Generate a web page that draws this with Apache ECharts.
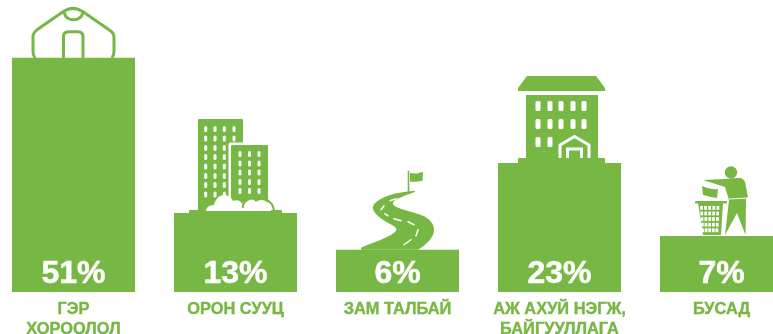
<!DOCTYPE html>
<html><head><meta charset="utf-8">
<style>html,body{margin:0;padding:0;background:#fff;overflow:hidden}#c{width:773px;height:334px}</style>
<script src="https://cdn.jsdelivr.net/npm/echarts@6/dist/echarts.min.js"></script>
</head><body><div id="c"></div>
<script>
const categories = ['ГЭР\nХОРООЛОЛ','ОРОН СУУЦ','ЗАМ ТАЛБАЙ','АЖ АХУЙ НЭГЖ,\nБАЙГУУЛЛАГА','БУСАД'];
const percents = [51,13,6,23,7];
// drawn bar heights (bars are not strictly proportional to their labels)
const barHeights = [51,17.2,9.2,28.1,12.2];
const GREEN = '#76b843', WHITE = '#fff';

const reg = (n,d)=>echarts.graphic.registerShape(n, echarts.graphic.extendPath(d,{}));
reg('yurt','M34.5 57 Q33 55 33 51 L33 37 Q33 33 37 30 L63 12 Q73 5 83 12 L109 30 Q114 33 114 37 L114 51 Q114 55 112.5 57');
reg('crown','M64 12.5 Q66 20 73.5 20 Q81 20 83 12.5');
reg('door','M63.5 57 L63.5 37 Q63.5 32 68.5 32 L78 32 Q83 32 83 37 L83 57');
reg('road','M415 191 C405 192 396 193 388 196 C378 200 372 204 373 209 C374 214 380 218 386 222 C392 225 398 228 396 231 C392 237 372 243 361 248 L361 250 L418 250 C426 245 434 238 434 230 C434 224 430 220 425 217 C415 212 394 209 393 204 C393 199 406 196 415 192 Z');
reg('bush1','M206 211 C206 207 210 205 214 205 C215 199 220 195 224 195 C228 195 232 198 233 201 C237 199 241 201 242 204 L242 211 Z');
reg('bush2','M242 211 C240 206 242 201 247 201 C250 198 254 199 256 202 C259 199 265 199 268 203 C271 205 272 208 271 211 Z');
reg('bushRing','M243 208 C242 203 247 198 254 198 C262 196 273 200 274 211');
reg('man','M703 180 L725 179 Q731 178 740 178 Q743 178 745 182 L748 197 L746 199 L745.5 235 L737 213 L725 235 L729 200 L725 187 Z');
reg('paper','M702 186 Q710 190 718 189 L717 198 Q710 197 703 195 Z');
reg('bin','M698 203 L723 203 L721 235 L703 235 Z');

function icon(i){
  const s = {stroke:GREEN,fill:null,lineWidth:3,lineCap:'round',lineJoin:'round'};
  const f = {fill:GREEN};
  const w = {fill:WHITE};
  const ch = [];
  const p = (type,style,shape)=>ch.push({type,style,shape:shape||{}});
  const r = (x,y,width,height,style,rad)=>p('rect',style,{x,y,width,height,r:rad||0});
  if(i===0){
    p('yurt',s);p('crown',s);p('door',s);
  }else if(i===1){
    r(198,119,45,92,f,1);
    [205.7,215,224.3,234].forEach(x=>[129,138.5,148,157,166.5,176,185,194.5].forEach(y=>r(x-1.5,y-3,3,6,w,1.5)));
    r(228.5,142.5,41.5,69,w,2);
    r(231,145,37,67,f,1);
    [240,249.5,259].forEach(x=>[154,163.5,172.5,182,191].forEach(y=>r(x-1.5,y-3,3,6,w,1.5)));
    r(189,210,93,4,f,1);
    p('bush1',w);p('bush2',w);
    p('bushRing',{stroke:GREEN,fill:null,lineWidth:2});
  }else if(i===2){
    p('line',{stroke:GREEN,lineWidth:1.6},{x1:408.5,y1:171,x2:408.5,y2:192});
    p('polygon',f,{points:[[410,173],[416,174],[423,172],[422.5,181],[416,182],[410,182]]});
    p('road',f);
    const d={stroke:WHITE,lineWidth:1.5,lineCap:'round'};
    [[[396,199],[390,201]],[[384,206],[381,210]],[[385,214],[388,216]],[[394,219],[401,221]],[[408,222],[414,225]],[[418,230],[416,236]],[[411,240],[404,245]]]
      .forEach(q=>p('line',d,{x1:q[0][0],y1:q[0][1],x2:q[1][0],y2:q[1][1]}));
  }else if(i===3){
    p('polygon',f,{points:[[527,76],[596,76],[605,88],[605,91],[518,91],[518,88]]});
    r(526,95,72,66,f);
    r(518,158,87,6,f,1);
    [538,550,561,573,584].forEach(x=>[101,119].forEach(y=>r(x-2.5,y,5,10,w,1.5)));
    [538,550].forEach(x=>r(x-2.5,137,5,10,w,1.5));
    p('polyline',{stroke:WHITE,fill:null,lineWidth:3,lineJoin:'round'},{points:[[560,158],[560,145],[574.5,136.5],[589,145],[589,158]]});
    p('polyline',{stroke:WHITE,fill:null,lineWidth:3},{points:[[567.5,158],[567.5,149],[581.5,149],[581.5,158]]});
  }else{
    p('circle',f,{cx:731,cy:172.5,r:6.2});
    p('man',f);
    p('line',{stroke:WHITE,lineWidth:1},{x1:729,y1:199,x2:748,y2:198});
    p('paper',f);
    r(695,201,32,2.5,f,1);
    p('bin',f);
    for(let c=0;c<5;c++)for(let q=0;q<5;q++){
      const x=701.5+c*4.1+(c-2)*(-0.25)*q*0.5;
      r(x-1.4,206+q*5.6,2.8,3.8,w);
    }
  }
  return ch;
}

const chart = echarts.init(document.getElementById('c'),null,{renderer:'canvas'});
const refTop = [58,213,250,163,236];
chart.setOption({
  animation:false,
  backgroundColor:'#fff',
  grid:{left:-7.5,width:810,top:0,height:292,outerBoundsMode:'none',containLabel:false},
  xAxis:{type:'category',data:categories,axisLine:{show:false},axisTick:{show:false},
    axisLabel:{interval:0,margin:7,hideOverlap:false,color:GREEN,fontFamily:'Liberation Sans',fontWeight:'bold',fontSize:16.4,lineHeight:20,textBorderColor:GREEN,textBorderWidth:0.4}},
  yAxis:{type:'value',min:0,max:63.6,show:false,splitLine:{show:false}},
  series:[
    {type:'bar',data:barHeights,barWidth:123,itemStyle:{color:GREEN},
      label:{show:true,position:'insideBottom',distance:1.5,color:WHITE,fontFamily:'Liberation Sans',fontWeight:'bold',fontSize:32,textBorderColor:WHITE,textBorderWidth:0.5,
        formatter:p=>percents[p.dataIndex]+'%'}},
    {type:'custom',clip:false,silent:true,z:3,data:barHeights.map((v,i)=>[i,v]),encode:{x:0,y:1},
      renderItem:(params,api)=>{
        const i=params.dataIndex, pt=api.coord([api.value(0),api.value(1)]);
        const refX=73.5+162*i;
        return {type:'group',x:pt[0]-refX,y:pt[1]-refTop[i],children:icon(i)};
      }}
  ]
});
</script></body></html>
